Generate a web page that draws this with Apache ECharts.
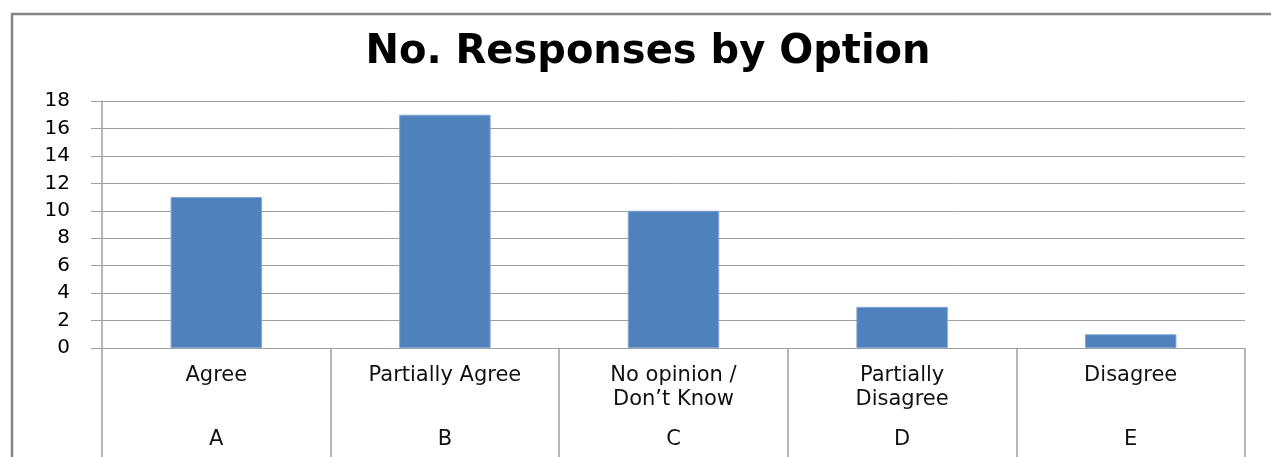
<!DOCTYPE html>
<html>
<head>
<meta charset="utf-8">
<script src="https://cdn.jsdelivr.net/npm/echarts@6/dist/echarts.min.js"></script>
<style>
html,body{margin:0;padding:0;background:#fff;}
#c{width:1271px;height:457px;}
</style>
</head>
<body>
<div id="c"></div>
<script>
const titleText = 'No. Responses by Option';
const categories = ['Agree', 'Partially Agree', 'No opinion /\nDon\u2019t Know', 'Partially\nDisagree', 'Disagree'];
const letters = ['A', 'B', 'C', 'D', 'E'];
const values = [11, 17, 10, 3, 1];
const yTicks = { min: 0, max: 18, interval: 2 };

const chart = echarts.init(document.getElementById('c'));
const gray = '#a0a0a0';
chart.setOption({
  animation: false,
  backgroundColor: '#fff',
  graphic: [{
    type: 'rect',
    shape: { x: 12, y: 14, width: 1300, height: 500 },
    style: { fill: 'none', stroke: '#868686', lineWidth: 2.5 },
    silent: true
  }, {
    type: 'text',
    x: 648, y: 53,
    style: {
      text: titleText, align: 'center', verticalAlign: 'middle',
      fontFamily: 'DejaVu Sans', fontWeight: 'bold', fontSize: 40, fill: '#000'
    },
    silent: true
  }],
  grid: { left: 102, right: 26, top: 101, bottom: 109, containLabel: false },
  xAxis: [{
    type: 'category',
    data: categories,
    position: 'bottom',
    axisLine: { show: true, lineStyle: { color: gray, width: 1 } },
    axisTick: { show: true, length: 112, interval: 0, lineStyle: { color: gray, width: 1.5 } },
    axisLabel: {
      interval: 0, margin: 16, verticalAlign: 'top', lineHeight: 24,
      fontFamily: 'DejaVu Sans', fontSize: 21, color: '#111'
    }
  }, {
    type: 'category',
    data: letters,
    position: 'bottom',
    axisLine: { show: false },
    axisTick: { show: false },
    axisLabel: {
      interval: 0, margin: 80, verticalAlign: 'top', lineHeight: 24,
      fontFamily: 'DejaVu Sans', fontSize: 21, color: '#111'
    }
  }],
  yAxis: {
    type: 'value',
    min: yTicks.min, max: yTicks.max, interval: yTicks.interval,
    axisLine: { show: true, lineStyle: { color: gray, width: 1.5 } },
    axisTick: { show: true, length: 11, lineStyle: { color: gray, width: 1 } },
    splitLine: { show: true, lineStyle: { color: gray, width: 1 } },
    axisLabel: { margin: 32, fontFamily: 'DejaVu Sans', fontSize: 20, color: '#000' }
  },
  series: [{
    type: 'bar',
    data: values,
    xAxisIndex: 0,
    barWidth: '40%',
    itemStyle: { color: '#4f81bd', borderColor: '#7ea6d6', borderWidth: 1 }
  }]
});
</script>
</body>
</html>
